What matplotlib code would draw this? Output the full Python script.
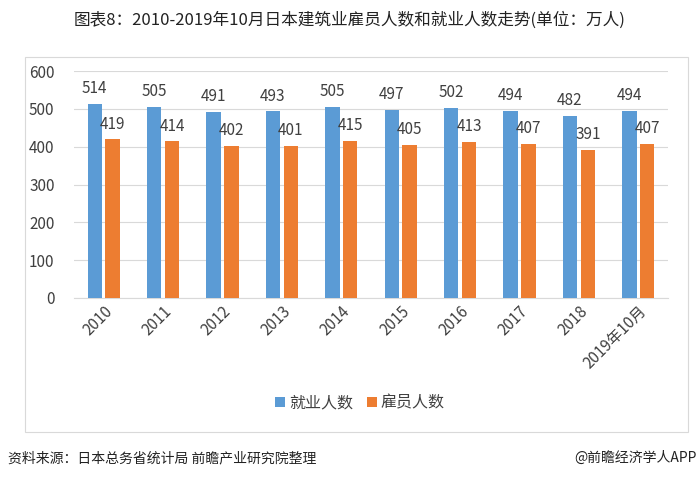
import numpy as np
import matplotlib.pyplot as plt
from matplotlib.patches import Rectangle

plt.rcParams['font.family'] = ['Noto Sans CJK SC', 'DejaVu Sans']

years = ['2010', '2011', '2012', '2013', '2014', '2015', '2016', '2017', '2018', '2019年10月']
employed = [514, 505, 491, 493, 505, 497, 502, 494, 482, 494]
employees = [419, 414, 402, 401, 415, 405, 413, 407, 391, 407]

BLUE = '#5B9BD5'
ORANGE = '#ED7D31'
TEXT = '#404040'

fig = plt.figure(figsize=(7, 4.78), dpi=100)
fig.patch.set_facecolor('white')

# outer chart border
fig.patches.append(Rectangle((25 / 700, 1 - 432 / 478), 663 / 700, 375 / 478,
                             transform=fig.transFigure, fill=False,
                             edgecolor='#D9D9D9', linewidth=0.8))

ax = fig.add_axes([74 / 700, 180 / 478, 594 / 700, 227 / 478])
x = np.arange(len(years))
w = 0.24
off = 0.15
ax.bar(x - off, employed, w, color=BLUE, label='就业人数', zorder=3)
ax.bar(x + off, employees, w, color=ORANGE, label='雇员人数', zorder=3)

# value labels
for xi, v in zip(x, employed):
    ax.text(xi - off, v + 18, str(v), ha='center', va='bottom', fontsize=11, color=TEXT)
for xi, v in zip(x, employees):
    ax.text(xi + off, v + 18, str(v), ha='center', va='bottom', fontsize=11, color=TEXT)

ax.set_xlim(-0.5, len(years) - 0.5)
ax.set_ylim(0, 600)
ax.set_yticks(range(0, 601, 100))
ax.grid(axis='y', color='#D9D9D9', linewidth=0.8, zorder=0)
for s in ['top', 'right', 'left']:
    ax.spines[s].set_visible(False)
ax.spines['bottom'].set_color('#D9D9D9')
ax.tick_params(axis='both', length=0, colors=TEXT, labelsize=11)
ax.tick_params(axis='y', pad=14)
ax.set_xticks(x)
ax.set_xticklabels(years, rotation=45, ha='right', rotation_mode='anchor')

ax.legend(loc='center', bbox_to_anchor=(360 / 700, 1 - 403 / 478),
          bbox_transform=fig.transFigure, ncol=2, frameon=False,
          fontsize=11.5, handlelength=0.6, handleheight=0.6,
          handletextpad=0.25, columnspacing=0.9, labelcolor=TEXT)

fig.text(0.5, 1 - 20 / 478, '图表8：2010-2019年10月日本建筑业雇员人数和就业人数走势(单位：万人)',
         ha='center', va='center', fontsize=12, color='#222222')
fig.text(8 / 700, 1 - 458 / 478, '资料来源：日本总务省统计局 前瞻产业研究院整理',
         ha='left', va='center', fontsize=10, color='#222222')
fig.text(697 / 700, 1 - 458 / 478, '@前瞻经济学人APP',
         ha='right', va='center', fontsize=10, color='#222222')

fig.savefig('out.png', dpi=100)
